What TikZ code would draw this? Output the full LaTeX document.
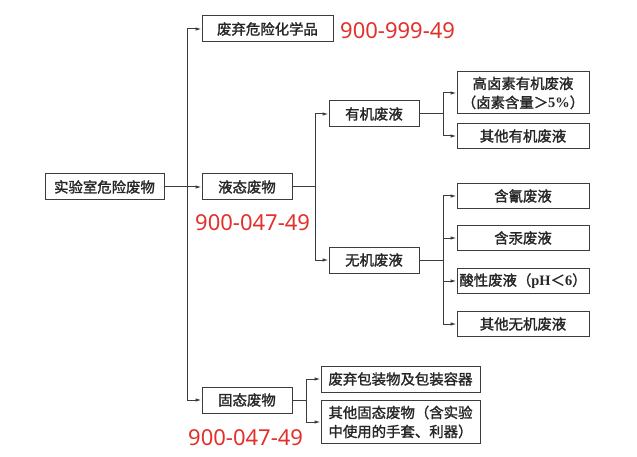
\documentclass[tikz,border=0pt]{standalone}
\usepackage{fontspec}
\setmainfont{Liberation Serif}
\newfontfamily\cjk{Noto Sans CJK SC}[FakeBold=1.6]
\newfontfamily\codefont{Noto Sans}
\usetikzlibrary{arrows.meta,calc}
\definecolor{linegray}{HTML}{3C3C3C}
\definecolor{codered}{HTML}{E2302B}
\newcommand{\lat}[1]{{\rmfamily\bfseries #1}}

\begin{document}
\begin{tikzpicture}[x=1pt,y=-1pt,
    wbox/.style={draw=linegray,line width=1pt,minimum height=26pt,inner sep=0pt,align=center,
      text=black!85,font=\cjk\fontsize{14.4}{19}\selectfont},
    link/.style={draw=linegray,line width=1pt},
    arr/.style={link,-{Latex[length=6pt,width=3.5pt]}},
    code/.style={text=codered,inner sep=0pt,font=\codefont\fontsize{22}{24}\selectfont}
  ]
  \useasboundingbox (0,0) rectangle (637,457);

  \node[wbox,minimum width=119pt] (root) at (104.5,187) {实验室危险废物};
  \node[wbox,minimum width=131pt] (chem) at (267.5,29) {废弃危险化学品};
  \node[wbox,minimum width=90pt] (liquid) at (247,187) {液态废物};
  \node[wbox,minimum width=90pt] (solid) at (247,400) {固态废物};

  \node[wbox,minimum width=90pt] (org) at (374,114) {有机废液};
  \node[wbox,minimum width=90pt] (inorg) at (374,260) {无机废液};

  \node[wbox,minimum width=132pt,minimum height=42pt] (halo) at (523,93) {高卤素有机废液\\（卤素含量＞\lat{5\%}）};
  \node[wbox,minimum width=132pt,minimum height=25pt] (othorg) at (523,136) {其他有机废液};
  \node[wbox,minimum width=132pt,minimum height=25pt] (cyan) at (523,196) {含氰废液};
  \node[wbox,minimum width=132pt,minimum height=25pt] (mercury) at (523,238) {含汞废液};
  \node[wbox,minimum width=132pt,minimum height=25pt] (acid) at (523,281) {酸性废液（\lat{pH}＜\lat{6}）};
  \node[wbox,minimum width=132pt,minimum height=25pt] (othinorg) at (523,324) {其他无机废液};

  \node[wbox,minimum width=159pt] (pack) at (400.5,379) {废弃包装物及包装容器};
  \node[wbox,minimum width=159pt,minimum height=43pt] (othsolid) at (400.5,422) {其他固态废物（含实验\\中使用的手套、利器）};

  \node[code,anchor=west] (codechem) at (340,31) {900-999-49};
  \node[code,anchor=west] (codeliquid) at (195,223) {900-047-49};
  \node[code,anchor=west] (codesolid) at (188,438) {900-047-49};

  \coordinate (trunk) at (187,187);
  \coordinate (liqfork) at (315,187);
  \coordinate (orgfork) at (443,114);
  \coordinate (inorgfork) at (443,260);
  \coordinate (solfork) at (306,400);

  \draw[arr] (root) -- (liquid);
  \draw[arr] (trunk) |- (chem);
  \draw[arr] (trunk) |- (solid);

  \draw[link] (liquid) -- (liqfork);
  \draw[arr] (liqfork) |- (org);
  \draw[arr] (liqfork) |- (inorg);

  \draw[link] (org) -- (orgfork);
  \draw[arr] (orgfork) |- (halo);
  \draw[arr] (orgfork) |- (othorg);

  \draw[link] (inorg) -- (inorgfork);
  \foreach \n in {cyan,mercury,acid,othinorg}
    \draw[arr] (inorgfork) |- (\n);

  \draw[link] (solid) -- (solfork);
  \draw[arr] (solfork) |- (pack);
  \draw[arr] (solfork) |- (othsolid);
\end{tikzpicture}
\end{document}
